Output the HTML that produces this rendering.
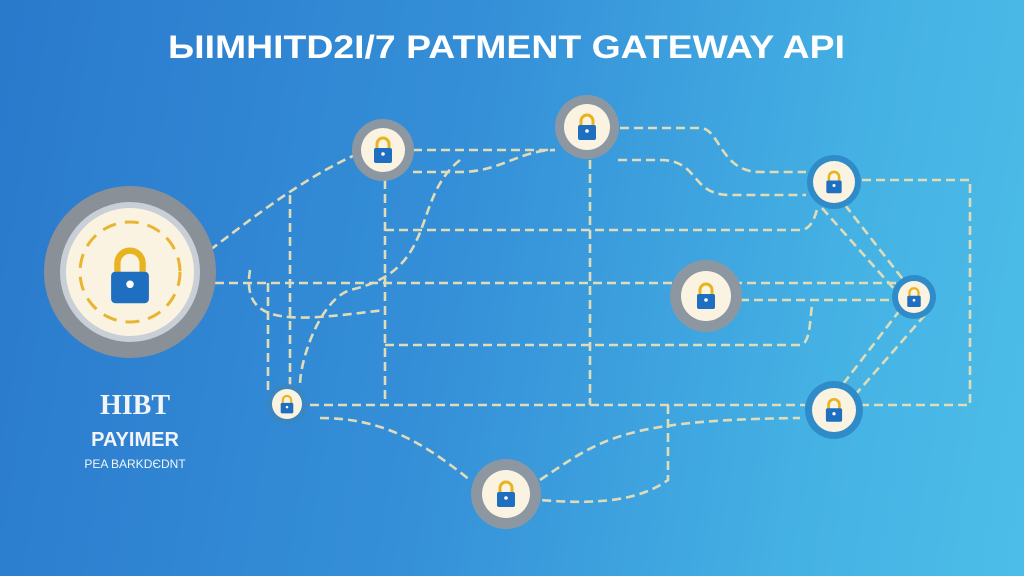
<!DOCTYPE html>
<html><head><meta charset="utf-8"><style>
html,body{margin:0;padding:0;width:1024px;height:576px;overflow:hidden}
body{background:linear-gradient(100deg,#2a79cc 0%,#3590d8 45%,#45b2e4 80%,#4cbde8 100%);font-family:"Liberation Sans",sans-serif}
svg{position:absolute;left:0;top:0}
</style></head><body>
<svg width="1024" height="576" viewBox="0 0 1024 576">
<defs>
<g id="lock">
<path d="M-6,-2 v-5 a6,6 0 0 1 12,0 v5" fill="none" stroke="#e8b320" stroke-width="3"/>
<rect x="-9" y="-3" width="18" height="15" rx="2" fill="#1f6fc0"/>
<circle cx="0" cy="3" r="1.8" fill="#fff"/>
</g>
</defs>
<text x="168" y="58" textLength="677" lengthAdjust="spacingAndGlyphs" fill="#fff" font-size="32" font-weight="bold" font-family="Liberation Sans, sans-serif">ЫIMHITD2I/7 PATMENT GATEWAY API</text>
<g fill="none" stroke="#e0dcb8" stroke-width="2.6" stroke-dasharray="9 5">
<path d="M215,283 H900"/>
<path d="M413,150 H555"/>
<path d="M413,172 H460 C500,172 520,150 555,150"/>
<path d="M620,128 H700 C720,128 720,172 760,172 H806"/>
<path d="M618,160 H660 C700,160 690,195 730,195 H806"/>
<path d="M385,230 H800 C812,230 815,215 817,210"/>
<path d="M862,180 H970 V405 H860"/>
<path d="M385,180 V405"/>
<path d="M590,160 V405"/>
<path d="M385,345 H800 C810,345 810,320 812,305"/>
<path d="M740,300 H892"/>
<path d="M310,405 H805"/>
<path d="M320,418 C380,418 420,440 470,480"/>
<path d="M540,480 C600,440 620,420 800,418"/>
<path d="M668,405 V480 C640,500 600,505 540,500"/>
<path d="M460,160 C410,200 440,270 350,290 C320,300 300,360 300,385"/>
<path d="M210,250 C250,220 300,180 355,155"/>
<path d="M268,283 V390"/>
<path d="M290,195 V385"/>
<path d="M845,205 L905,282"/>
<path d="M822,208 L895,290"/>
<path d="M900,310 L840,388"/>
<path d="M925,315 L855,395"/>
<path d="M250,270 C240,330 300,320 385,310"/>
</g>
<g>
<circle cx="130" cy="272" r="86" fill="#8a9098"/>
<circle cx="130" cy="272" r="70" fill="#c9cfd6"/>
<circle cx="130" cy="272" r="64" fill="#faf3e1"/>
<circle cx="130" cy="272" r="50" fill="none" stroke="#e7b532" stroke-width="3" stroke-dasharray="14 9"/>
<g transform="translate(130,278) scale(2.1)"><use href="#lock"/></g>
</g>
<g>
<circle cx="383" cy="150" r="31" fill="#8d97a1"/><circle cx="383" cy="150" r="22" fill="#faf3e1"/><use href="#lock" transform="translate(383,151)"/>
<circle cx="587" cy="127" r="32" fill="#8d97a1"/><circle cx="587" cy="127" r="23" fill="#faf3e1"/><use href="#lock" transform="translate(587,128)"/>
<circle cx="834" cy="182" r="27" fill="#2f8cc8"/><circle cx="834" cy="182" r="21" fill="#faf3e1"/><use href="#lock" transform="translate(834,183) scale(0.85)"/>
<circle cx="706" cy="296" r="36" fill="#8d97a1"/><circle cx="706" cy="296" r="25" fill="#faf3e1"/><use href="#lock" transform="translate(706,297)"/>
<circle cx="914" cy="297" r="22" fill="#2f8cc8"/><circle cx="914" cy="297" r="16" fill="#faf3e1"/><use href="#lock" transform="translate(914,298) scale(0.75)"/>
<circle cx="287" cy="404" r="20" fill="#3a86c0"/><circle cx="287" cy="404" r="15" fill="#faf3e1"/><use href="#lock" transform="translate(287,405) scale(0.7)"/>
<circle cx="834" cy="410" r="29" fill="#2f8cc8"/><circle cx="834" cy="410" r="22" fill="#faf3e1"/><use href="#lock" transform="translate(834,411) scale(0.9)"/>
<circle cx="506" cy="494" r="35" fill="#8d97a1"/><circle cx="506" cy="494" r="24" fill="#faf3e1"/><use href="#lock" transform="translate(506,495)"/>
</g>
<g fill="#f2f4f8" font-family="Liberation Serif, serif" font-weight="bold" text-anchor="middle">
<text x="135" y="414" font-size="28">HIBT</text>
<text x="135" y="446" font-size="20" font-family="Liberation Sans, sans-serif">PAYIMER</text>
<text x="135" y="468" font-size="12" font-family="Liberation Sans, sans-serif" font-weight="normal">PEA BARKDЄDNT</text>
</g>
</svg>
</body></html>
